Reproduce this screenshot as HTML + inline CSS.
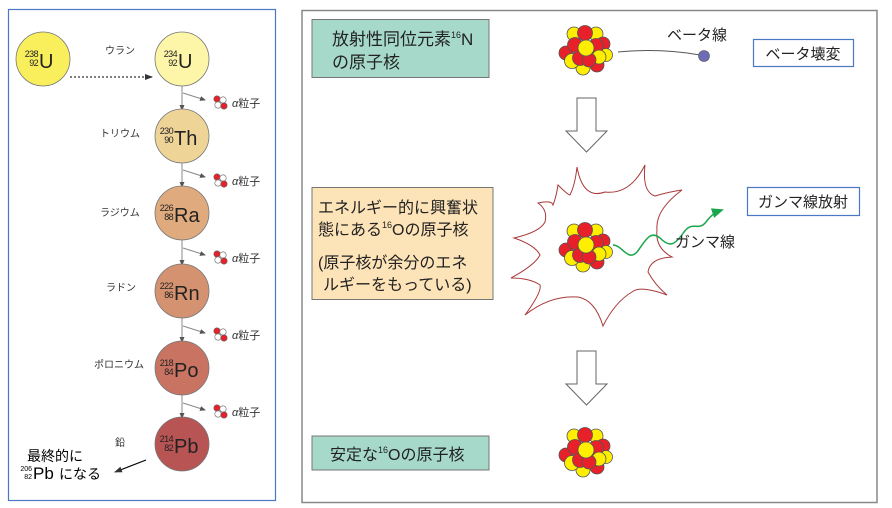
<!DOCTYPE html>
<html><head><meta charset="utf-8"><style>
html,body{margin:0;padding:0;background:#fff;}
svg{display:block;}
text{font-family:"Liberation Sans","Noto Sans CJK JP",sans-serif;}
.n{font-size:9px;letter-spacing:-0.6px;}
</style></head><body>
<svg width="892" height="508" viewBox="0 0 892 508" xmlns="http://www.w3.org/2000/svg">
<defs>
<g id="atom" stroke="#555" stroke-width="0.8">
<circle cx="-12" cy="-16" r="7" fill="#ffee00"/>
<circle cx="10" cy="-16" r="7" fill="#ffee00"/>
<circle cx="-1" cy="-17" r="7.5" fill="#e8202a"/>
<circle cx="17" cy="-6" r="7" fill="#e8202a"/>
<circle cx="20" cy="5" r="6.5" fill="#ffee00"/>
<circle cx="-20" cy="3" r="7" fill="#e8202a"/>
<circle cx="-3" cy="18" r="7" fill="#ffee00"/>
<circle cx="11" cy="15" r="7" fill="#e8202a"/>
<circle cx="-14" cy="11" r="7.5" fill="#ffee00"/>
<circle cx="-11" cy="-5" r="7.5" fill="#e8202a"/>
<circle cx="10" cy="-4" r="7.5" fill="#e8202a"/>
<circle cx="-6" cy="8" r="7.5" fill="#e8202a"/>
<circle cx="13" cy="7" r="7" fill="#ffee00"/>
<circle cx="3" cy="10" r="7" fill="#e8202a"/>
<circle cx="0" cy="-2" r="8" fill="#ffee00"/>
</g>
<g id="alpha" stroke="#666" stroke-width="0.6">
<circle cx="-3" cy="-3" r="3.2" fill="#e8202a"/>
<circle cx="3" cy="-2" r="3.2" fill="#fff"/>
<circle cx="-2" cy="3" r="3.2" fill="#fff"/>
<circle cx="4" cy="4" r="3.2" fill="#e8202a"/>
</g>
<marker id="ah" markerWidth="8" markerHeight="8" refX="7" refY="4" orient="auto" markerUnits="userSpaceOnUse"><path d="M0,1 L8,4 L0,7 Z" fill="#333"/></marker>
<marker id="ahs" markerWidth="6" markerHeight="6" refX="5" refY="3" orient="auto" markerUnits="userSpaceOnUse"><path d="M0,0.5 L6,3 L0,5.5 Z" fill="#555"/></marker>
<marker id="ahg" markerWidth="12" markerHeight="10" refX="10" refY="5" orient="auto" markerUnits="userSpaceOnUse"><path d="M0,0 L12,5 L0,10 Z" fill="#1aa64a"/></marker>
</defs>

<rect x="8.5" y="9.5" width="267" height="491" fill="#fff" stroke="#4a78c4" stroke-width="1.2"/>

<circle cx="43" cy="59" r="27" fill="#f9ef5c" stroke="#777" stroke-width="0.8"/>
<text x="38" y="57" class="n" text-anchor="end" fill="#222">238</text>
<text x="38" y="66" class="n" text-anchor="end" fill="#222">92</text>
<text x="39" y="68" font-size="20" fill="#222">U</text>
<line x1="70" y1="77" x2="152" y2="77" stroke="#333" stroke-width="1.2" stroke-dasharray="2,2" marker-end="url(#ah)"/>

<g font-size="10" fill="#333">
<text x="105" y="54">ウラン</text>
<text x="100" y="137">トリウム</text>
<text x="100" y="216">ラジウム</text>
<text x="106" y="291">ラドン</text>
<text x="94" y="368">ポロニウム</text>
<text x="115" y="446">鉛</text>
</g>

<g stroke="#888" stroke-width="1">
<line x1="182" y1="86" x2="182" y2="110" marker-end="url(#ahs)"/>
<line x1="182" y1="162" x2="182" y2="187" marker-end="url(#ahs)"/>
<line x1="182" y1="239" x2="182" y2="265" marker-end="url(#ahs)"/>
<line x1="182" y1="317" x2="182" y2="342" marker-end="url(#ahs)"/>
<line x1="182" y1="394" x2="182" y2="418" marker-end="url(#ahs)"/>
<line x1="183" y1="93" x2="205" y2="100" marker-end="url(#ahs)"/>
<line x1="183" y1="170" x2="205" y2="177" marker-end="url(#ahs)"/>
<line x1="183" y1="248" x2="205" y2="255" marker-end="url(#ahs)"/>
<line x1="183" y1="326" x2="205" y2="333" marker-end="url(#ahs)"/>
<line x1="183" y1="403" x2="205" y2="410" marker-end="url(#ahs)"/>
</g>
<use href="#alpha" x="220" y="102"/>
<use href="#alpha" x="220" y="180"/>
<use href="#alpha" x="220" y="257"/>
<use href="#alpha" x="220" y="334"/>
<use href="#alpha" x="220" y="411"/>
<g font-size="11" fill="#333">
<text x="232" y="107"><tspan font-style="italic">α</tspan>粒子</text>
<text x="232" y="185"><tspan font-style="italic">α</tspan>粒子</text>
<text x="232" y="262"><tspan font-style="italic">α</tspan>粒子</text>
<text x="232" y="339"><tspan font-style="italic">α</tspan>粒子</text>
<text x="232" y="416"><tspan font-style="italic">α</tspan>粒子</text>
</g>

<g stroke="#777" stroke-width="0.8">
<circle cx="182" cy="59" r="27" fill="#fdf6a8"/>
<circle cx="182" cy="136" r="27" fill="#efd498"/>
<circle cx="182" cy="213" r="27" fill="#dfaa7d"/>
<circle cx="182" cy="291" r="27" fill="#d59271"/>
<circle cx="182" cy="368" r="27" fill="#c97462"/>
<circle cx="182" cy="444" r="27" fill="#b85454"/>
</g>
<g fill="#222">
<text x="177" y="57" class="n" text-anchor="end">234</text><text x="177" y="66" class="n" text-anchor="end">92</text><text x="178" y="68" font-size="20">U</text>
<text x="173" y="134" class="n" text-anchor="end">230</text><text x="173" y="143" class="n" text-anchor="end">90</text><text x="174" y="145" font-size="20">Th</text>
<text x="173" y="211" class="n" text-anchor="end">226</text><text x="173" y="220" class="n" text-anchor="end">88</text><text x="174" y="222" font-size="20">Ra</text>
<text x="173" y="289" class="n" text-anchor="end">222</text><text x="173" y="298" class="n" text-anchor="end">86</text><text x="174" y="300" font-size="20">Rn</text>
<text x="173" y="366" class="n" text-anchor="end">218</text><text x="173" y="375" class="n" text-anchor="end">84</text><text x="174" y="377" font-size="20">Po</text>
<text x="173" y="442" class="n" text-anchor="end">214</text><text x="173" y="451" class="n" text-anchor="end">82</text><text x="174" y="453" font-size="20">Pb</text>
</g>
<text x="27" y="461" font-size="14" fill="#000">最終的に</text>
<text x="32" y="471" font-size="7" text-anchor="end" fill="#000">206</text>
<text x="32" y="479" font-size="7" text-anchor="end" fill="#000">82</text>
<text x="33" y="479" font-size="17" fill="#000">Pb</text>
<text x="59" y="479" font-size="14" fill="#000">になる</text>
<line x1="146" y1="460" x2="115" y2="472" stroke="#000" stroke-width="1.2" marker-end="url(#ah)"/>

<rect x="302" y="10.5" width="575" height="492" fill="#fff" stroke="#888" stroke-width="1.5"/>

<rect x="312" y="19.5" width="177" height="58" fill="#a6d9c9" stroke="#777" stroke-width="1"/>
<text x="332" y="45" font-size="17" fill="#222">放射性同位元素<tspan font-size="9" dy="-7">16</tspan><tspan dy="7">N</tspan></text>
<text x="332" y="68" font-size="17" fill="#222">の原子核</text>

<use href="#atom" x="586" y="50"/>
<path d="M618,52 Q660,48 700,55" fill="none" stroke="#555" stroke-width="1"/>
<circle cx="704" cy="56" r="5.5" fill="#6f6bb5" stroke="#555" stroke-width="0.6"/>
<text x="667" y="40" font-size="15" fill="#222">ベータ線</text>
<rect x="753.5" y="39.5" width="100" height="27" fill="#fff" stroke="#4a78c4" stroke-width="1.2"/>
<text x="803" y="59" font-size="15" text-anchor="middle" fill="#222">ベータ壊変</text>

<path d="M577,98 H596 V131 H607 L586.5,152 L566,131 H577 Z" fill="#fff" stroke="#666" stroke-width="1"/>

<rect x="312" y="187.5" width="181" height="112" fill="#fde3b8" stroke="#777" stroke-width="1"/>
<g font-size="16" fill="#222">
<text x="318" y="213">エネルギー的に興奮状</text>
<text x="318" y="235">態にある<tspan font-size="9" dy="-7">16</tspan><tspan dy="7">Oの原子核</tspan></text>
<text x="318" y="268">(原子核が余分のエネ</text>
<text x="323" y="290">ルギーをもっている)</text>
</g>

<path d="M577,167 Q583,200 605,192 Q630,195 645,165 Q642,192 655,196 Q668,192 682,190 Q655,210 657,230 Q655,248 672,257 Q650,258 648,272 Q655,285 667,295 Q640,285 632,292 Q615,302 603,326 Q595,300 578,297 Q550,295 525,315 Q542,292 540,285 Q530,278 511,278 Q535,265 540,255 Q535,245 514,238 Q540,232 545,222 Q548,210 538,203 Q552,200 553,205 Q556,198 558,185 Q568,195 570,195 Q575,185 577,167 Z" fill="#fff" stroke="#a83a3a" stroke-width="1"/>
<use href="#atom" x="586" y="247"/>
<path d="M613,245 C622,245 628,262 637,252 C646,240 650,230 660,238 C670,248 675,245 684,232 C693,220 698,232 706,222 C712,214 716,212 722,210" fill="none" stroke="#1aa64a" stroke-width="1.5" marker-end="url(#ahg)"/>
<text x="675" y="247" font-size="15" fill="#222">ガンマ線</text>
<rect x="747.5" y="187.5" width="112" height="28" fill="#fff" stroke="#4a78c4" stroke-width="1.2"/>
<text x="803" y="207" font-size="15" text-anchor="middle" fill="#222">ガンマ線放射</text>

<path d="M577,351 H596 V384 H607 L586.5,405 L566,384 H577 Z" fill="#fff" stroke="#666" stroke-width="1"/>

<rect x="312" y="436" width="177" height="34" fill="#a6d9c9" stroke="#777" stroke-width="1"/>
<text x="330" y="460" font-size="16" fill="#222">安定な<tspan font-size="9" dy="-7">16</tspan><tspan dy="7">Oの原子核</tspan></text>
<use href="#atom" x="586" y="452"/>
</svg>
</body></html>
